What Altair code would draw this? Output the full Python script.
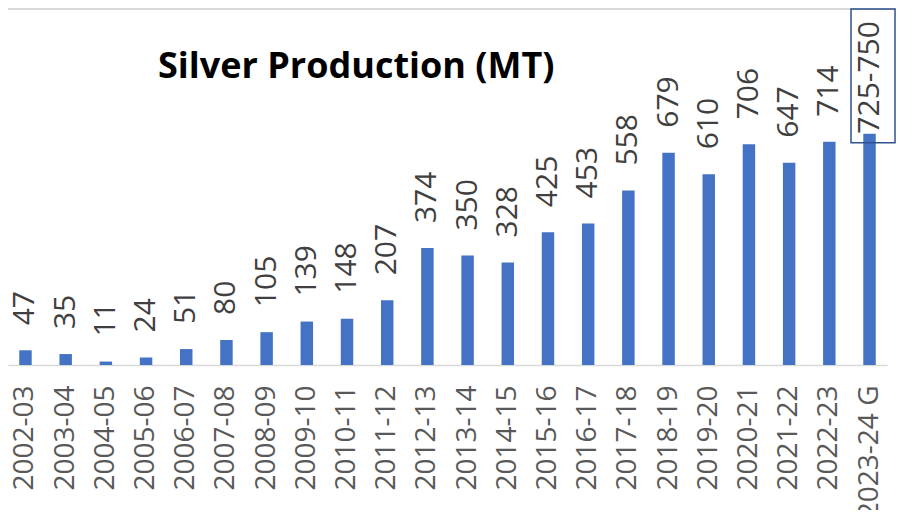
import altair as alt
import pandas as pd

years = ["2002-03", "2003-04", "2004-05", "2005-06", "2006-07", "2007-08", "2008-09",
         "2009-10", "2010-11", "2011-12", "2012-13", "2013-14", "2014-15", "2015-16",
         "2016-17", "2017-18", "2018-19", "2019-20", "2020-21", "2021-22", "2022-23",
         "2023-24 G"]
production = [47, 35, 11, 24, 51, 80, 105, 139, 148, 207, 374, 350, 328, 425, 453,
              558, 679, 610, 706, 647, 714, 740]
labels = ["47", "35", "11", "24", "51", "80", "105", "139", "148", "207", "374", "350",
          "328", "425", "453", "558", "679", "610", "706", "647", "714", "725-750"]
title_text = "Silver Production (MT)"

df = pd.DataFrame({"year": years, "value": production, "label": labels})
df_main = df.iloc[:-1]
df_last = df.iloc[-1:]

FONT = "Open Sans"
Y_MAX = 1142
PLOT_W = 879
xscale = alt.Scale(domain=years, paddingInner=0.69, paddingOuter=0.28)
yscale = alt.Scale(domain=[0, Y_MAX])

x_enc = alt.X("year:N", scale=xscale, sort=years,
              axis=alt.Axis(title=None, labelAngle=-90, labelAlign="right",
                            labelBaseline="middle", labelPadding=20, ticks=False,
                            domainColor="#D9D9D9", domainWidth=1.5, grid=False,
                            labelFont=FONT, labelFontSize=28, labelColor="#595959"))
x_plain = alt.X("year:N", scale=xscale, sort=years)
y_enc = alt.Y("value:Q", scale=yscale, axis=None)

bars = alt.Chart(df).mark_bar(color="#4472C4").encode(x=x_enc, y=y_enc)

text_main = alt.Chart(df_main).mark_text(
    angle=270, align="left", baseline="middle", dx=25, font=FONT, fontSize=30,
    color="#404040").encode(x=x_plain, y=alt.Y("value:Q", scale=yscale), text="label:N")

text_last = alt.Chart(df_last).mark_text(
    angle=270, align="left", baseline="middle", dx=0, font=FONT, fontSize=30,
    color="#404040").encode(x=x_plain, y=alt.Y("value:Q", scale=yscale), text="label:N")

box = alt.Chart(df_last).mark_rect(
    fill="transparent", stroke="#2F528F", strokeWidth=1.5, width=44, xOffset=3.5,
    yOffset=9, y2Offset=0).encode(
    x=x_plain,
    y=alt.Y("value:Q", scale=yscale, stack=None),
    y2=alt.Y2(datum=Y_MAX - 3))

top_line = alt.Chart(df_last).mark_rule(color="#D9D9D9", strokeWidth=2).encode(
    x=alt.value(-10), x2=alt.value(900), y=alt.value(1))

title = alt.Chart(df_last).mark_text(
    text=title_text, align="left", baseline="alphabetic", font=FONT, fontSize=36,
    fontWeight="bold", color="#000000").encode(x=alt.value(150), y=alt.value(70))

chart = alt.layer(top_line, bars, text_main, text_last, box, title).properties(
    width=PLOT_W, height=357,
    autosize=alt.AutoSizeParams(type="none"),
    padding={"left": 0, "top": 0, "right": 9, "bottom": 145},
).configure_view(stroke=None)

chart.save("out.html", embed_options={"renderer": "svg", "actions": False})
